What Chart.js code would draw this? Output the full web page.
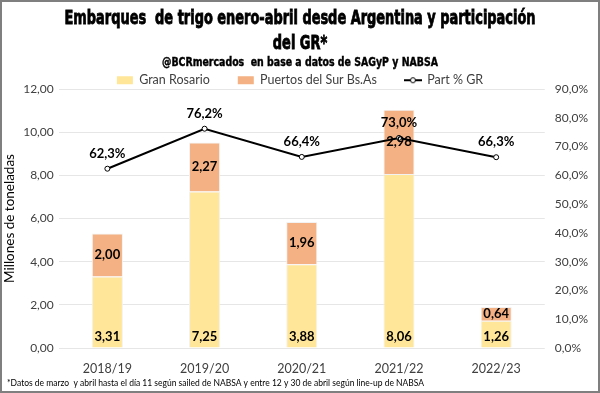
<!DOCTYPE html>
<html>
<head>
<meta charset="utf-8">
<script src="https://cdn.jsdelivr.net/npm/chart.js@4.4.1/dist/chart.umd.min.js"></script>
<style>
    html, body { margin: 0; padding: 0; background: #fff; }
    #wrap { width: 600px; height: 393px; box-sizing: border-box; border: 2px solid #7f7f7f; position: relative; }
    canvas { display: block; }
</style>
</head>
<body>
<div id="wrap"><canvas id="embarquesChart" width="596" height="389"></canvas></div>
<script>
// Datos
const campanias = ['2018/19', '2019/20', '2020/21', '2021/22', '2022/23'];
const granRosario = [3.31, 7.25, 3.88, 8.06, 1.26];
const puertosSur = [2.00, 2.27, 1.96, 2.98, 0.64];
const partGR = [62.3, 76.2, 66.4, 73.0, 66.3];

const titulo = ['Embarques  de trigo enero-abril desde Argentina y participación', 'del GR*'];
const subtitulo = '@BCRmercados  en base a datos de SAGyP y NABSA';
const nota = '*Datos de marzo  y abril hasta el día 11 según sailed de NABSA y entre 12 y 30 de abril según line-up de NABSA';

const fmtNum = (v, d) => v.toFixed(d).replace('.', ',');
const fuenteTitulo = "'DejaVu Sans Condensed', 'DejaVu Sans'";

// Marcador de la leyenda para la línea (línea con círculo)
const marcaLinea = document.createElement('canvas');
marcaLinea.width = 18;
marcaLinea.height = 8;
(function () {
    const c = marcaLinea.getContext('2d');
    c.strokeStyle = '#000';
    c.lineWidth = 2;
    c.beginPath();
    c.moveTo(0, 4);
    c.lineTo(18, 4);
    c.stroke();
    c.fillStyle = '#fff';
    c.lineWidth = 1;
    c.beginPath();
    c.arc(9, 4, 2.5, 0, Math.PI * 2);
    c.fill();
    c.stroke();
})();

// Texto comprimido horizontalmente (fuente condensada del original)
function textoAncho(ctx, txt, cx, y, escala, grosor) {
    ctx.save();
    ctx.translate(cx, y);
    ctx.scale(escala, 1);
    ctx.fillText(txt, 0, 0);
    if (grosor) {
        ctx.lineWidth = grosor;
        ctx.strokeText(txt, 0, 0);
    }
    ctx.restore();
}

// Títulos, etiquetas de datos y nota al pie
const etiquetasPlugin = {
    id: 'etiquetas',
    afterDatasetsDraw(chart) {
        const ctx = chart.ctx;
        ctx.save();
        ctx.fillStyle = '#000';
        ctx.textAlign = 'center';
        ctx.textBaseline = 'middle';
        ctx.font = 'bold 13px Lato';
        chart.data.datasets.forEach((ds, i) => {
            const meta = chart.getDatasetMeta(i);
            meta.data.forEach((el, j) => {
                const v = ds.data[j];
                if (i === 0) {
                    ctx.fillText(fmtNum(v, 2), el.x, el.base - 11);
                } else if (i === 1) {
                    ctx.fillText(fmtNum(v, 2), el.x, (el.y + el.base) / 2);
                } else {
                    ctx.fillText(fmtNum(v, 1) + '%', el.x, el.y - 15);
                }
            });
        });
        ctx.restore();
    },
    afterDraw(chart) {
        const ctx = chart.ctx;
        const cx = 298;
        ctx.save();
        ctx.fillStyle = '#000';
        ctx.strokeStyle = '#000';
        ctx.textAlign = 'center';
        ctx.textBaseline = 'alphabetic';
        ctx.font = 'bold 19px ' + fuenteTitulo;
        const escala = 471 / ctx.measureText(titulo[0]).width;
        textoAncho(ctx, titulo[0], cx, 22, escala, 0.8);
        textoAncho(ctx, titulo[1], cx, 47, escala, 0.8);
        ctx.font = 'bold 12px ' + fuenteTitulo;
        textoAncho(ctx, subtitulo, cx, 64, 276 / ctx.measureText(subtitulo).width, 0.4);

        ctx.font = '8.5px Lato';
        ctx.textAlign = 'left';
        ctx.textBaseline = 'middle';
        ctx.fillText(nota, 5, chart.height - 8);
        ctx.restore();
    }
};

const ejeTicks = { color: '#404040', font: { family: 'Lato', size: 12 } };

new Chart(document.getElementById('embarquesChart'), {
    data: {
        labels: campanias,
        datasets: [{
            type: 'bar',
            label: 'Gran Rosario',
            data: granRosario,
            backgroundColor: '#FFE699',
            borderColor: '#f2f2f2',
            borderWidth: 1,
            stack: 'puertos',
            order: 2
        }, {
            type: 'bar',
            label: 'Puertos del Sur Bs.As',
            data: puertosSur,
            backgroundColor: '#F4B183',
            borderColor: '#f2f2f2',
            borderWidth: 1,
            stack: 'puertos',
            order: 2
        }, {
            type: 'line',
            label: 'Part % GR',
            data: partGR,
            yAxisID: 'y1',
            borderColor: '#000',
            borderWidth: 2,
            backgroundColor: '#fff',
            pointRadius: 2.5,
            pointBorderWidth: 1,
            pointBackgroundColor: '#fff',
            pointBorderColor: '#000',
            tension: 0,
            order: 0
        }]
    },
    options: {
        responsive: false,
        animation: false,
        datasets: { bar: { barPercentage: 0.32, categoryPercentage: 1 } },
        layout: { padding: { left: 0, right: 0, top: 44, bottom: 2 } },
        plugins: {
            title: { display: false },
            legend: {
                position: 'top',
                maxHeight: 43,
                labels: {
                    color: '#404040',
                    font: { family: 'Lato', size: 12.5 },
                    boxWidth: 16,
                    boxHeight: 8,
                    padding: 28,
                    sort: (a, b) => a.datasetIndex - b.datasetIndex,
                    usePointStyle: true,
                    pointStyleWidth: 16,
                    generateLabels(chart) {
                        const items = Chart.defaults.plugins.legend.labels.generateLabels(chart);
                        items.forEach(it => {
                            it.lineWidth = 0;
                            it.pointStyle = it.datasetIndex === 2 ? marcaLinea : 'rect';
                        });
                        return items;
                    }
                }
            },
            tooltip: { enabled: false }
        },
        scales: {
            x: {
                stacked: true,
                grid: { display: false, drawTicks: false },
                border: { display: false },
                ticks: { color: '#404040', font: { family: 'Lato', size: 12.5 }, padding: 13 }
            },
            y: {
                stacked: true,
                min: 0,
                max: 12,
                ticks: { ...ejeTicks, stepSize: 2, padding: 5, callback: v => fmtNum(v, 2) },
                grid: { color: '#e6e6e6', drawTicks: false },
                border: { display: false },
                title: { display: true, text: 'Millones de toneladas', color: '#000', font: { family: 'Lato', size: 13.5 }, padding: 0 }
            },
            y1: {
                position: 'right',
                min: 0,
                max: 90,
                ticks: { ...ejeTicks, stepSize: 10, padding: 10, callback: v => fmtNum(v, 1) + '%' },
                grid: { display: false, drawTicks: false },
                border: { display: false }
            }
        }
    },
    plugins: [etiquetasPlugin]
});
</script>
</body>
</html>
